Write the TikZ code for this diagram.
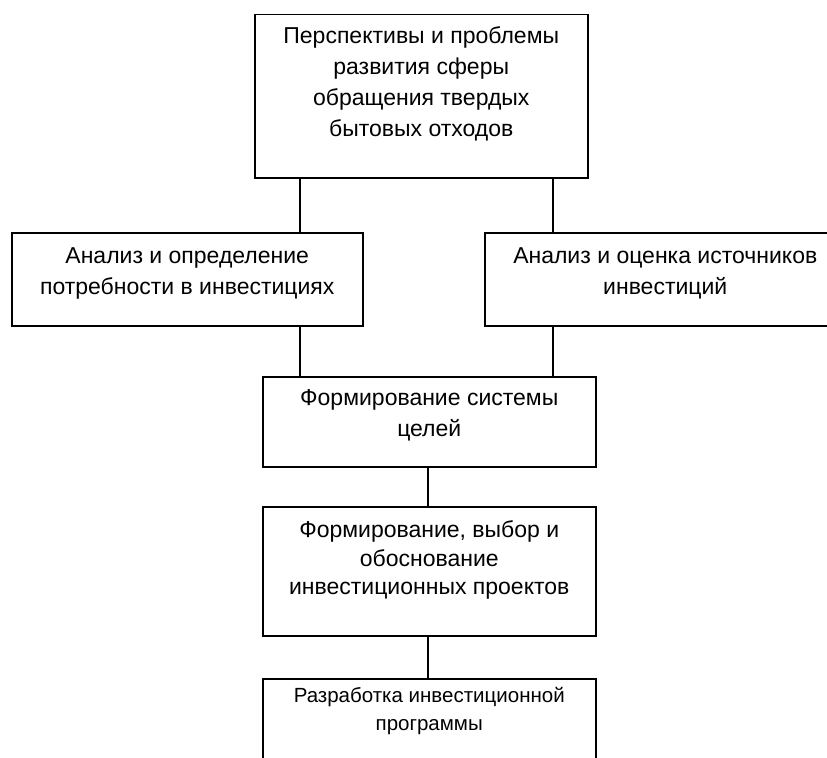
\documentclass[tikz,border=0pt]{standalone}
\usepackage{fontspec}
\setmainfont{Liberation Sans}
\newcommand{\blok}[4]{\parbox[t][#2][t]{#1}{\centering\rule{0pt}{#3}#4}}
\tikzset{
  blok/.style={draw, line width=1.5bp, inner sep=0pt, anchor=north west,
    font=\fontsize{23bp}{31bp}\selectfont},
  svyaz/.style={line width=1.5bp}
}
\begin{document}
\begin{tikzpicture}[x=1bp,y=-1bp]
  \useasboundingbox (0,0) rectangle (827,758);
  \clip (0,0) rectangle (827,758);
  \node[blok] (persp) at (254,14)
    {\blok{333bp}{163bp}{29bp}{Перспективы и проблемы\\ развития сферы\\ обращения твердых\\ бытовых отходов}};
  \node[blok] (potreb) at (11,232)
    {\blok{351bp}{93bp}{31bp}{Анализ и определение\\ потребности в инвестициях}};
  \node[blok] (istoch) at (484,232)
    {\blok{361bp}{93bp}{31bp}{Анализ и оценка источников\\ инвестиций}};
  \node[blok] (celi) at (262,376)
    {\blok{333bp}{90bp}{29bp}{Формирование системы\\ целей}};
  \node[blok, font=\fontsize{23bp}{28.5bp}\selectfont] (proekty) at (262,506)
    {\blok{333bp}{129bp}{31bp}{Формирование, выбор и\\ обоснование\\ инвестиционных проектов}};
  \node[blok, font=\fontsize{20.5bp}{28bp}\selectfont] (programma) at (262,678)
    {\blok{333bp}{95bp}{24bp}{Разработка инвестиционной\\ программы}};
  \begin{scope}[svyaz]
    \draw (persp.south -| 300,0) to (potreb.north -| 300,0);
    \draw (persp.south -| 553,0) to (istoch.north -| 553,0);
    \draw (potreb.south -| 300,0) to (celi.north -| 300,0);
    \draw (istoch.south -| 553,0) to (celi.north -| 553,0);
    \draw (celi.south -| 428,0) to (proekty.north -| 428,0);
    \draw (proekty.south -| 428,0) to (programma.north -| 428,0);
  \end{scope}
\end{tikzpicture}
\end{document}
